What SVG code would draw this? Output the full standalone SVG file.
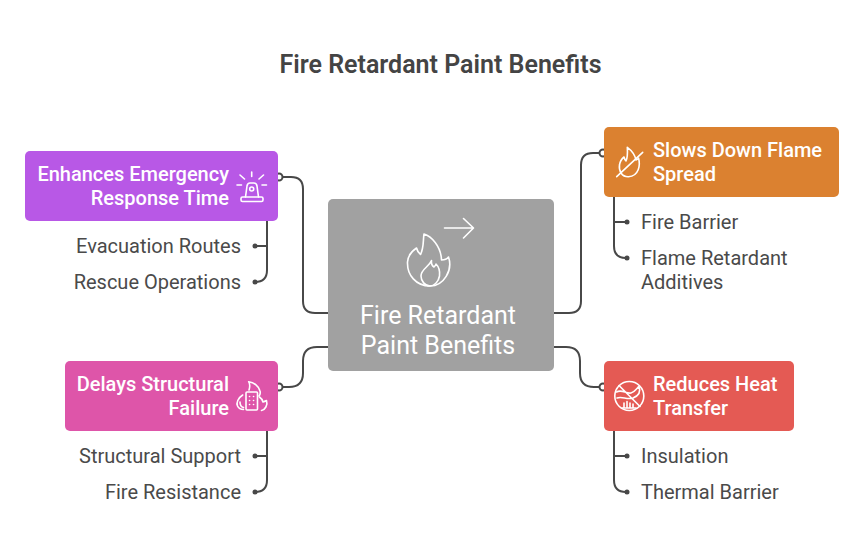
<svg xmlns="http://www.w3.org/2000/svg" width="865" height="552" viewBox="0 0 865 552">
<style>
text{font-family:Roboto,"Liberation Sans",sans-serif}
.title{font-size:25px;font-weight:600;fill:#444;text-anchor:middle}
.head{font-size:20px;font-weight:500;fill:#fff}
.big{font-size:25px;font-weight:400;fill:#fff;text-anchor:middle}
.sub{font-size:20px;fill:#4a4a4a}
.end{text-anchor:end}
.c{fill:none;stroke:#484848;stroke-width:2}
.dot{fill:#484848}
.port{fill:#fff;stroke:#484848;stroke-width:2}
.i{fill:none;stroke:#fff;stroke-width:1.6;stroke-linecap:round;stroke-linejoin:round}
</style>
<rect width="865" height="552" fill="#fff"/>
<text class="title" x="440.500" y="72.500">Fire Retardant Paint Benefits</text>
<g id="connectors">
<path class="c" d="M278 177H291Q303 177 303 189V301Q303 313 315 313H328"/>
<path class="c" d="M604 153H593Q581 153 581 165V301Q581 313 569 313H554"/>
<path class="c" d="M278 387H289Q303 387 303 373V361Q303 347 317 347H328"/>
<path class="c" d="M604 387H594Q580 387 580 373V361Q580 347 566 347H554"/>
<path class="c" d="M267 221V270Q267 282 255 282M267 246H254"/>
<path class="c" d="M267 431V480Q267 492 255 492M267 456H254"/>
<path class="c" d="M614 197V246Q614 258 626 258M614 222H627"/>
<path class="c" d="M614 431V480Q614 492 626 492M614 456H627"/>
<circle class="dot" cx="255" cy="246" r="2.500"/><circle class="dot" cx="255" cy="282" r="2.500"/>
<circle class="dot" cx="255" cy="456" r="2.500"/><circle class="dot" cx="255" cy="492" r="2.500"/>
<circle class="dot" cx="627" cy="222" r="2.500"/><circle class="dot" cx="627" cy="258" r="2.500"/>
<circle class="dot" cx="627" cy="456" r="2.500"/><circle class="dot" cx="627" cy="492" r="2.500"/>
<circle class="port" cx="279" cy="177" r="3.500"/><circle class="port" cx="279" cy="387" r="3.500"/>
<circle class="port" cx="603" cy="153" r="3.500"/><circle class="port" cx="603" cy="387" r="3.500"/>
</g>
<g id="center">
<rect x="328" y="199" width="226" height="172" rx="5" fill="#a1a1a1"/>
<path class="i" d="M444.500 228H473M463.500 218.500L473.500 228L463.500 238"/>
<path class="i" d="M424 234C431 236 441 246 441.500 260C444 260 447 259 448.500 257C453 270 444 286 430 286C416 286 407 275 407.500 262C408 256 412 251 416.500 248C417 251 419 253 420.500 254.500C424 248 423 240 424 234Z"/>
<path class="i" d="M431.500 260.500C431 264 432.500 266 434 267C435 266 436 265 436 264C439 267 440 272 439.500 276C438.500 282 434 286 430 286C425 286 421 281 421 276C421 269 429 267 431.500 260.500Z"/>
<text class="big" x="438" y="324.300">Fire Retardant</text>
<text class="big" x="438" y="354.300">Paint Benefits</text>
</g>
<g id="n-emergency">
<rect x="25" y="151" width="253" height="70" rx="5" fill="#b858e6"/>
<text class="head end" x="229" y="181">Enhances Emergency</text>
<text class="head end" x="229" y="205">Response Time</text>
<rect class="i" x="241" y="197" width="22" height="4.500" rx="1.500"/>
<path class="i" d="M245.500 197L247 186Q247.500 183 250 183H254Q256.500 183 257 186L258.500 197"/>
<circle class="i" cx="251.700" cy="189" r="2"/>
<path class="i" d="M251.700 172V176.500M240 175L244.500 179M263.500 175L259 179M237 185H241.500M262 185H266.500"/>
</g>
<g id="n-structural">
<rect x="65" y="361" width="213" height="70" rx="5" fill="#de55a9"/>
<text class="head end" x="229" y="391">Delays Structural</text>
<text class="head end" x="229" y="415">Failure</text>
<rect class="i" x="246" y="392" width="11.500" height="18" rx="1"/>
<path class="i" d="M249.500 396.500h.1M253.500 396.500h.1M249.500 400.500h.1M253.500 400.500h.1M249.500 404.500h.1M253.500 404.500h.1"/>
<path class="i" d="M242.700 395C238 398 236 403 237.500 406C238.500 408 241 409.500 243.500 409.500M240 402C240 405 241.500 407 243.500 407.500"/>
<path class="i" d="M259.500 397C261 398 262.500 400 263 402C264.500 401.500 265.500 401 266.500 400.500C268 405 265 410 261.500 410.500"/>
<path class="i" d="M249 390C250 387 250 384 248.700 381.700C254 382.500 259 386 260 391C260.500 393 260 395 259 396"/>
</g>
<g id="n-flame">
<rect x="604" y="127" width="235" height="70" rx="5" fill="#db8130"/>
<text class="head" x="653" y="157">Slows Down Flame</text>
<text class="head" x="653" y="181">Spread</text>
<path class="i" d="M627.300 147.300C631 150 635 155 636 160C637.500 159.500 638 159 638.500 158C640.500 165 639 176 628.500 176.700C622 177 618.500 171 619.500 165C620 161.500 622 158.500 624 157C624.500 159 625 160 626 161C628 157 627.500 151 627.300 147.300Z"/>
<path class="i" d="M616.700 176.700L642.700 152.300"/>
</g>
<g id="n-heat">
<rect x="604" y="361" width="190" height="70" rx="5" fill="#e45a54"/>
<text class="head" x="653" y="391">Reduces Heat</text>
<text class="head" x="653" y="415">Transfer</text>
<circle class="i" cx="629.300" cy="396" r="14.500"/>
<path class="i" d="M619 385.500L640 406.500M616.500 392C622 389 626 394 631 393C635 392 637 388 639 386.500C641 392 638 396 633 398M617 398C622 396 627 400 633 398M624 408V403M627 408V401.500M630 408V403M633 408V404M622 408H636"/>
</g>
<g id="l-evac"><text class="sub end" x="241" y="252.500">Evacuation Routes</text></g>
<g id="l-rescue"><text class="sub end" x="241" y="288.500">Rescue Operations</text></g>
<g id="l-support"><text class="sub end" x="241" y="462.500">Structural Support</text></g>
<g id="l-resist"><text class="sub end" x="241" y="498.500">Fire Resistance</text></g>
<g id="l-barrier"><text class="sub" x="641" y="228.500">Fire Barrier</text></g>
<g id="l-additives"><text class="sub" x="641" y="264.500">Flame Retardant</text><text class="sub" x="641" y="288.500">Additives</text></g>
<g id="l-insulation"><text class="sub" x="641" y="462.500">Insulation</text></g>
<g id="l-thermal"><text class="sub" x="641" y="498.500">Thermal Barrier</text></g>
</svg>
